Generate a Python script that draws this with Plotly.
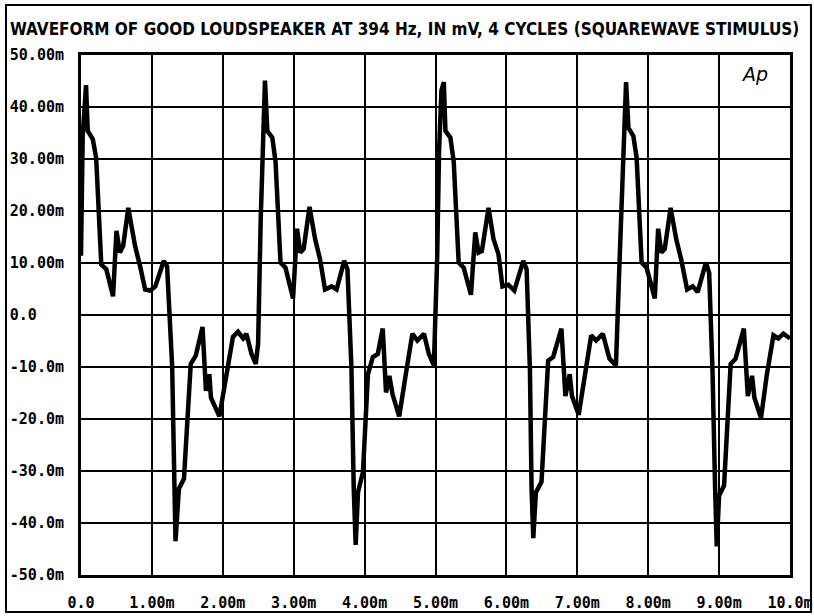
import plotly.graph_objects as go

# time in ms, level in mV
t_ms = [0.000, 0.012, 0.024, 0.071, 0.095, 0.167, 0.214, 0.286, 0.357, 0.452, 0.500, 0.548, 0.595, 0.667,
        0.762, 0.833, 0.905, 0.976, 1.048, 1.167, 1.214, 1.286, 1.310, 1.333, 1.381, 1.452, 1.548, 1.619,
        1.714, 1.762, 1.810, 1.833, 1.952, 2.048, 2.143, 2.214, 2.286, 2.333, 2.405, 2.465, 2.498,
        2.535, 2.572, 2.595, 2.628, 2.698, 2.744, 2.814, 2.884, 2.991, 3.047, 3.093, 3.140, 3.223, 3.302,
        3.372, 3.442, 3.535, 3.605, 3.712, 3.758, 3.814, 3.847, 3.874, 3.907, 3.977, 4.047, 4.116, 4.186,
        4.256, 4.302, 4.349, 4.395, 4.488, 4.581, 4.674, 4.744, 4.837, 4.907, 4.977,
        5.023, 5.050, 5.084, 5.117, 5.140, 5.210, 5.257, 5.327, 5.397, 5.500, 5.561, 5.607, 5.654, 5.748,
        5.818, 5.888, 5.944, 6.028, 6.112, 6.238, 6.285, 6.332, 6.355, 6.379, 6.416, 6.495, 6.589, 6.659,
        6.776, 6.832, 6.893, 6.925, 7.019, 7.103, 7.196, 7.266, 7.360, 7.453, 7.545,
        7.590, 7.651, 7.688, 7.721, 7.791, 7.837, 7.907, 7.977, 8.093, 8.140, 8.186, 8.233, 8.316, 8.395,
        8.465, 8.549, 8.628, 8.698, 8.814, 8.860, 8.907, 8.944, 8.967, 9.000, 9.070, 9.163, 9.233, 9.349,
        9.405, 9.465, 9.498, 9.591, 9.674, 9.767, 9.837, 9.907, 10.000]
v_mv = [11.4, 21.0, 34.4, 44.2, 35.4, 33.8, 30.2, 9.7, 8.8, 3.6, 16.2, 12.0, 13.3, 20.6,
        13.3, 9.4, 4.9, 4.7, 5.5, 10.4, 9.4, -10.0, -33.4, -43.5, -33.4, -31.5, -9.4, -7.8,
        -2.3, -14.6, -11.4, -15.9, -19.5, -11.4, -4.2, -3.2, -4.5, -3.6, -7.5, -9.4, -5.5,
        18.5, 34.7, 45.1, 35.4, 34.1, 29.5, 10.1, 9.1, 3.2, 16.6, 12.0, 12.7, 20.8, 14.6,
        10.7, 4.9, 5.5, 4.9, 10.4, 8.8, -10.0, -33.4, -44.2, -34.1, -30.2, -11.4, -8.1, -7.5,
        -2.6, -14.9, -11.7, -15.3, -19.5, -11.4, -3.6, -4.9, -3.6, -7.5, -9.7,
        10.7, 31.5, 43.2, 44.8, 35.4, 34.1, 29.5, 10.1, 9.1, 3.9, 15.9, 12.0, 12.3, 20.6,
        14.6, 11.7, 5.5, 5.8, 4.7, 10.4, 8.8, -10.7, -33.4, -42.9, -34.1, -32.1, -8.8, -8.1,
        -2.6, -15.6, -11.4, -15.6, -19.2, -12.0, -3.9, -4.9, -3.6, -8.4, -9.7,
        8.0, 31.5, 44.8, 36.0, 34.4, 30.2, 10.1, 9.1, 3.2, 16.6, 12.0, 12.7, 20.6, 14.6,
        10.7, 4.9, 5.5, 4.4, 10.1, 8.1, -10.7, -33.4, -44.5, -34.7, -32.8, -9.4, -8.4, -2.6,
        -15.6, -11.7, -15.9, -19.8, -11.4, -3.9, -4.5, -3.6, -4.5]

x_tick_vals = [0, 1, 2, 3, 4, 5, 6, 7, 8, 9, 10]
x_tick_text = ["0.0", "1.00m", "2.00m", "3.00m", "4.00m", "5.00m", "6.00m", "7.00m", "8.00m", "9.00m", "10.0m"]
y_tick_vals = [50, 40, 30, 20, 10, 0, -10, -20, -30, -40, -50]
y_tick_text = ["50.00m", "40.00m", "30.00m", "20.00m", "10.00m", "0.0\u00a0\u00a0\u00a0",
               "-10.0m", "-20.0m", "-30.0m", "-40.0m", "-50.0m"]

title_text = "WAVEFORM OF GOOD LOUDSPEAKER AT 394 Hz, IN mV, 4 CYCLES (SQUAREWAVE STIMULUS)"

fig = go.Figure()
fig.add_trace(go.Scatter(x=t_ms, y=v_mv, mode="lines",
                         line=dict(color="black", width=4.5), hoverinfo="skip"))

tickfont = dict(family="DejaVu Sans Mono", size=15, color="black", weight="bold")

fig.update_layout(
    width=814, height=616,
    margin=dict(l=81, r=24, t=55, b=41, autoexpand=False),
    paper_bgcolor="white", plot_bgcolor="white",
    showlegend=False,
    title=dict(text=title_text, xref="container", yref="container",
               x=10 / 814, xanchor="left", y=1 - 29 / 616, yanchor="middle",
               font=dict(family="DejaVu Sans Condensed", size=17, color="black", weight="bold")),
    xaxis=dict(range=[0, 10], tickvals=x_tick_vals, ticktext=x_tick_text, automargin=False,
               showgrid=True, gridcolor="black", gridwidth=2, zeroline=False,
               showline=True, linecolor="black", linewidth=3, mirror=True,
               ticks="", ticklabelstandoff=12, tickfont=tickfont, fixedrange=True),
    yaxis=dict(range=[-50, 50], tickvals=y_tick_vals, ticktext=y_tick_text, automargin=False,
               showgrid=True, gridcolor="black", gridwidth=2, zeroline=False,
               showline=True, linecolor="black", linewidth=3, mirror=True,
               ticks="", ticklabelstandoff=11, tickfont=tickfont, fixedrange=True),
    annotations=[dict(text="<i>Ap</i>", xref="paper", yref="paper",
                      x=(770 - 81) / 709, y=1 - (74 - 55) / 520, xanchor="right", yanchor="middle",
                      showarrow=False,
                      font=dict(family="DejaVu Sans", size=19, color="black"))],
    shapes=[dict(type="rect", xref="paper", yref="paper",
                 x0=(6 - 81) / 709, x1=(811 - 81) / 709,
                 y0=-(612 - 575) / 520, y1=1 + (55 - 5) / 520,
                 line=dict(color="black", width=2), layer="below")],
)

fig.write_html("out.html", config={"displayModeBar": False},
               post_script="document.body.style.margin='0';document.body.style.overflow='hidden';")
